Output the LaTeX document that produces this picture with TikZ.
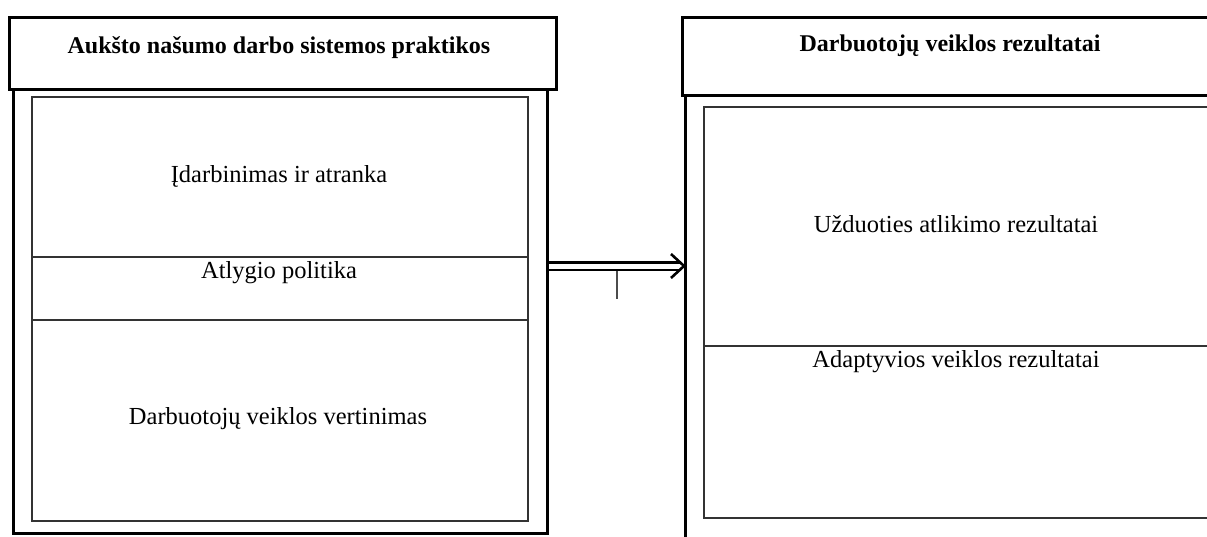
\documentclass[tikz,border=0pt]{standalone}
\usepackage{fontspec}
\setmainfont{Liberation Serif}
\usetikzlibrary{arrows.meta, positioning}
\tikzstyle{headbox} = [draw, line width=2.8pt, rectangle, anchor=north west, inner sep=0pt]
\tikzstyle{outerbox} = [draw, line width=2.8pt, rectangle, anchor=north west, inner sep=0pt]
\tikzstyle{innerbox} = [draw, line width=1.5pt, draw=black!80, rectangle, anchor=north west, inner sep=0pt]
\tikzstyle{divider} = [line width=1.2pt, draw=black!80]
\tikzstyle{title} = [font=\fontsize{24}{28}\selectfont\bfseries]
\tikzstyle{item} = [font=\fontsize{24.5}{28}\selectfont]

\begin{document}
\begin{tikzpicture}[x=1pt, y=-1pt, >=latex]
  \useasboundingbox (0,0) rectangle (1207,536);
  % left column
  \node[headbox, minimum width=547, minimum height=72] (lhead) at (8,16) {};
  \node[title] (ltitle) at (279,48) {Aukšto našumo darbo sistemos praktikos};
  \node[outerbox, minimum width=534, minimum height=444] (louter) at (12,88) {};
  \node[innerbox, minimum width=496, minimum height=424] (linner) at (31,96) {};
  \draw[divider] (linner.west |- 0,257) -- (linner.east |- 0,257);
  \draw[divider] (linner.west |- 0,320) -- (linner.east |- 0,320);
  \node[item] (hiring) at (279,176) {Įdarbinimas ir atranka};
  \node[item] (reward) at (279,273) {Atlygio politika};
  \node[item] (appraisal) at (278,419) {Darbuotojų veiklos vertinimas};
  % right column
  \node[headbox, minimum width=540, minimum height=78] (rhead) at (681,16) {};
  \node[title] (rtitle) at (950,46) {Darbuotojų veiklos rezultatai};
  \node[outerbox, minimum width=540, minimum height=460] (router) at (684,94) {};
  \node[innerbox, minimum width=520, minimum height=411] (rinner) at (703,106) {};
  \draw[divider] (rinner.west |- 0,346) -- (rinner.east |- 0,346);
  \node[item] (task) at (956,224) {Užduoties atlikimo rezultatai};
  \node[item] (adaptive) at (956,362) {Adaptyvios veiklos rezultatai};
  % link
  \coordinate (tip) at (router.west |- 0,266);
  \draw[double, double distance=5pt, line width=2.6pt, shorten >=4pt] (louter.east |- 0,266) -- (tip);
  \draw[line width=2.6pt, line join=miter] (tip) ++(-13,-12) -- (tip) -- ++(-13,12);
  \coordinate (tick) at (617,271);
  \draw[line width=1.2pt, draw=black!70] (tick) -- ++(0,28);
\end{tikzpicture}
\end{document}
